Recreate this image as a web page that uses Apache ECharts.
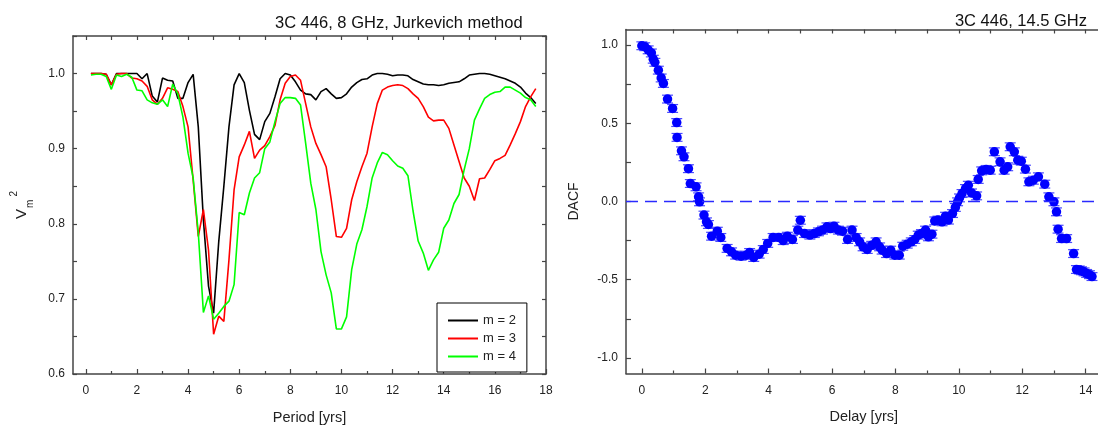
<!DOCTYPE html>
<html>
<head>
<meta charset="utf-8">
<script src="https://cdn.jsdelivr.net/npm/echarts@6/dist/echarts.min.js"></script>
<style>
html,body{margin:0;padding:0;background:#fff;}
#chart{width:1098px;height:425px;}
</style>
</head>
<body>
<div id="chart"></div>
<script>
// ---------- Left panel: Jurkevich method, 8 GHz ----------
const periods = [0.2,0.4,0.6,0.8,1.0,1.2,1.4,1.6,1.8,2.0,2.2,2.4,2.6,2.8,3.0,3.2,3.4,3.6,3.8,4.0,
  4.2,4.4,4.6,4.8,5.0,5.2,5.4,5.6,5.8,6.0,6.2,6.4,6.6,6.8,7.0,7.2,7.4,7.6,7.8,8.0,
  8.2,8.4,8.6,8.8,9.0,9.2,9.4,9.6,9.8,10.0,10.2,10.4,10.6,10.8,11.0,11.2,11.4,11.6,11.8,12.0,
  12.2,12.4,12.6,12.8,13.0,13.2,13.4,13.6,13.8,14.0,14.2,14.4,14.6,14.8,15.0,15.2,15.4,15.6,15.8,16.0,
  16.2,16.4,16.6,16.8,17.0,17.2,17.4,17.6];
const m2 = [1.0,1.0,1.0,0.999,0.985,1.0,1.0,1.0,1.0,1.0,0.993,1.0,0.970,0.962,0.994,0.991,0.990,0.967,0.967,0.988,
  0.999,0.929,0.805,0.717,0.681,0.776,0.850,0.929,0.985,1.0,0.988,0.951,0.919,0.912,0.936,0.947,0.969,0.993,1.0,0.998,
  0.989,0.978,0.973,0.972,0.965,0.976,0.980,0.973,0.967,0.968,0.973,0.982,0.988,0.992,0.993,0.998,1.0,1.0,0.999,0.997,
  0.998,0.998,0.997,0.992,0.989,0.986,0.985,0.985,0.984,0.985,0.987,0.988,0.989,0.993,0.998,0.999,1.0,1.0,0.999,0.997,
  0.995,0.993,0.990,0.987,0.982,0.974,0.968,0.960];
const m3 = [1.0,1.0,1.0,0.999,0.985,0.999,1.0,1.0,0.994,0.993,0.990,0.983,0.965,0.959,0.967,0.981,0.979,0.976,0.956,0.929,
  0.858,0.783,0.819,0.765,0.653,0.677,0.670,0.752,0.845,0.889,0.905,0.923,0.887,0.898,0.904,0.916,0.931,0.965,0.987,0.996,
  0.998,0.991,0.960,0.929,0.907,0.892,0.876,0.832,0.783,0.782,0.794,0.832,0.856,0.876,0.894,0.929,0.960,0.978,0.982,0.984,
  0.985,0.984,0.980,0.973,0.967,0.956,0.942,0.937,0.938,0.938,0.927,0.905,0.883,0.861,0.850,0.831,0.860,0.861,0.872,0.884,
  0.887,0.891,0.905,0.920,0.936,0.956,0.969,0.980];
const m4 = [0.998,0.999,0.999,0.996,0.979,0.998,0.996,0.999,0.995,0.978,0.977,0.965,0.961,0.959,0.965,0.956,0.986,0.973,0.942,0.894,
  0.861,0.788,0.682,0.704,0.673,0.681,0.690,0.697,0.719,0.815,0.812,0.841,0.861,0.868,0.900,0.909,0.936,0.960,0.968,0.968,
  0.967,0.958,0.907,0.854,0.819,0.763,0.732,0.708,0.660,0.660,0.676,0.739,0.773,0.792,0.823,0.861,0.881,0.895,0.892,0.884,
  0.877,0.874,0.864,0.817,0.777,0.761,0.738,0.752,0.762,0.794,0.805,0.827,0.839,0.872,0.900,0.938,0.953,0.967,0.972,0.975,
  0.976,0.982,0.982,0.978,0.974,0.968,0.965,0.956];
const seriesNames = ['m = 2','m = 3','m = 4'];
const leftXMajor = [0,2,4,6,8,10,12,14,16,18];
const leftXMinor = [1,3,5,7,9,11,13,15,17];
const leftXAll = [0,1,2,3,4,5,6,7,8,9,10,11,12,13,14,15,16,17,18];
const leftYLabels = [0.6,0.7,0.8,0.9,1.0];
const leftYTicks = [0.6,0.65,0.7,0.75,0.8,0.85,0.9,0.95,1.0,1.05];

// ---------- Right panel: DACF, 14.5 GHz ----------
const delays = [0,0.09,0.2,0.3,0.36,0.41,0.52,0.61,0.68,0.81,0.97,1.10,1.11,1.25,1.33,1.47,1.53,1.71,1.79,1.82,
  1.96,2.04,2.10,2.20,2.38,2.49,2.69,2.83,2.96,3.13,3.29,3.40,3.53,3.70,3.83,3.97,4.14,4.32,4.46,4.59,
  4.75,4.92,5.0,5.13,5.30,5.44,5.57,5.70,5.84,5.95,6.06,6.20,6.33,6.49,6.63,6.76,6.87,6.98,7.11,7.25,
  7.39,7.50,7.58,7.72,7.85,7.98,8.12,8.23,8.37,8.50,8.61,8.72,8.82,8.95,9.04,9.15,9.24,9.34,9.47,9.58,
  9.67,9.80,9.89,9.96,10.02,10.10,10.21,10.30,10.40,10.56,10.61,10.72,10.86,10.99,11.12,11.30,11.43,11.54,11.62,11.75,
  11.86,11.97,12.10,12.21,12.35,12.51,12.71,12.84,13.0,13.08,13.13,13.24,13.40,13.62,13.71,13.80,13.87,13.95,14.03,14.12,14.2];
const dacf = [0.996,0.99,0.97,0.95,0.91,0.89,0.84,0.79,0.755,0.655,0.595,0.505,0.41,0.324,0.286,0.21,0.115,0.094,0.03,-0.002,
  -0.087,-0.13,-0.147,-0.222,-0.19,-0.23,-0.30,-0.322,-0.343,-0.35,-0.343,-0.326,-0.358,-0.337,-0.307,-0.268,-0.23,-0.23,-0.25,-0.222,
  -0.243,-0.183,-0.12,-0.205,-0.215,-0.205,-0.194,-0.183,-0.162,-0.173,-0.158,-0.183,-0.19,-0.243,-0.183,-0.23,-0.258,-0.29,-0.307,-0.28,
  -0.258,-0.29,-0.311,-0.333,-0.311,-0.343,-0.343,-0.286,-0.273,-0.258,-0.243,-0.215,-0.205,-0.183,-0.226,-0.209,-0.124,-0.119,-0.13,-0.094,
  -0.119,-0.077,-0.038,-0.002,0.023,0.051,0.083,0.104,0.055,0.036,0.141,0.196,0.205,0.20,0.318,0.254,0.20,0.222,0.35,0.318,
  0.264,0.258,0.207,0.126,0.136,0.158,0.111,0.03,-0.002,-0.066,-0.177,-0.237,-0.237,-0.333,-0.435,-0.438,-0.443,-0.45,-0.46,-0.468,-0.48];
const dacfErr = 0.025;
const rightXMajor = [0,2,4,6,8,10,12,14];
const rightXMinor = [1,3,5,7,9,11,13];
const rightXAll = [0,1,2,3,4,5,6,7,8,9,10,11,12,13,14];
const rightYLabels = [-1.0,-0.5,0.0,0.5,1.0];
const rightYTicks = [-1.0,-0.75,-0.5,-0.25,0.0,0.25,0.5,0.75,1.0];

// ---------- build ----------
const FONT = 'Liberation Sans, Arial, sans-serif';
const AX = '#444';
const lineColors = ['#000000','#ff0000','#00ff00'];
const lineVals = [m2, m3, m4];

function pairs(xs, ys){ return xs.map((x,i)=>[x, ys[i]]); }

const chart = echarts.init(document.getElementById('chart'), null, {renderer:'canvas'});

function xAx(grid, min, max, pos, ticks, tickLen, labels, showLine, name){
  return {
    type:'value', gridIndex:grid, min:min, max:max, position:pos,
    axisLine:{show:showLine, onZero:false, lineStyle:{color:AX, width:1.5}},
    axisTick:{show:true, inside:true, length:tickLen, customValues:ticks, lineStyle:{color:AX, width:1.2}},
    axisLabel:{show:!!labels, customValues:labels||undefined, margin:11, color:'#222', fontSize:12, fontFamily:FONT},
    splitLine:{show:false},
    name:name||'', nameLocation:'middle', nameGap:36,
    nameTextStyle:{fontSize:14.5, color:'#222', fontFamily:FONT}
  };
}
function yAx(grid, min, max, pos, ticks, tickLen, labels, showLine, fmt){
  return {
    type:'value', gridIndex:grid, min:min, max:max, position:pos,
    axisLine:{show:showLine, onZero:false, lineStyle:{color:AX, width:1.5}},
    axisTick:{show:true, inside:true, length:tickLen, customValues:ticks, lineStyle:{color:AX, width:1.2}},
    axisLabel:{show:!!labels, customValues:labels||undefined, margin:8, color:'#222', fontSize:12, fontFamily:FONT,
      formatter: fmt},
    splitLine:{show:false}
  };
}
const fmt1 = v => (Math.round(v*10)/10).toFixed(1);

const xAxes = [
  xAx(0,-0.5,18,'bottom',leftXMajor,5,leftXMajor,true,'Period [yrs]'),
  xAx(0,-0.5,18,'bottom',leftXMinor,3,null,false),
  xAx(0,-0.5,18,'top',leftXAll,4,null,true),
  xAx(1,-0.5,14.5,'bottom',rightXMajor,5,rightXMajor,true,'Delay [yrs]'),
  xAx(1,-0.5,14.5,'bottom',rightXMinor,3,null,false),
  xAx(1,-0.5,14.5,'top',rightXAll,4,null,true)
];
const yLeft = yAx(0,0.6,1.05,'left',leftYTicks,4,leftYLabels,true,fmt1);
yLeft.name = '{v|V}{m|m}{s|2}';
yLeft.nameLocation = 'middle';
yLeft.nameRotate = 90;
yLeft.nameGap = 38;
yLeft.nameTextStyle = {fontFamily:FONT, color:'#222', rich:{
  v:{fontSize:15, lineHeight:26, fontFamily:FONT, color:'#222'},
  m:{fontSize:10, verticalAlign:'bottom', lineHeight:12, fontFamily:FONT, color:'#222', padding:[0,0,0,1]},
  s:{fontSize:10, verticalAlign:'top', lineHeight:12, fontFamily:FONT, color:'#222', padding:[0,0,0,3]}
}};
const yRightOfLeft = yAx(0,0.6,1.05,'right',leftYTicks,4,null,true);
const yDacf = yAx(1,-1.1,1.1,'left',rightYTicks,5,rightYLabels,true,fmt1);
yDacf.name = 'DACF';
yDacf.nameLocation = 'middle';
yDacf.nameRotate = 90;
yDacf.nameGap = 45;
yDacf.nameTextStyle = {fontSize:14, color:'#222', fontFamily:FONT};

const series = lineVals.map((vals,i)=>({
  name: seriesNames[i], type:'line', xAxisIndex:0, yAxisIndex:0,
  data: pairs(periods, vals), symbol:'none', showSymbol:false,
  lineStyle:{color:lineColors[i], width:1.6}, itemStyle:{color:lineColors[i]},
  z: 2 + i
}));

series.push({
  name:'err', type:'custom', xAxisIndex:3, yAxisIndex:2,
  data: delays.map((d,i)=>[d, dacf[i], dacfErr]),
  renderItem: function(params, api){
    const x = api.value(0), y = api.value(1), e = api.value(2);
    const t = api.coord([x, y + e]);
    const b = api.coord([x, y - e]);
    const hw = 5.5;
    const st = {stroke:'#4a4aff', lineWidth:1.2};
    return {type:'group', children:[
      {type:'line', shape:{x1:t[0], y1:t[1], x2:b[0], y2:b[1]}, style:st},
      {type:'line', shape:{x1:t[0]-hw, y1:t[1], x2:t[0]+hw, y2:t[1]}, style:st},
      {type:'line', shape:{x1:b[0]-hw, y1:b[1], x2:b[0]+hw, y2:b[1]}, style:st}
    ]};
  },
  z: 2, silent:true
});
series.push({
  name:'DACF', type:'scatter', xAxisIndex:3, yAxisIndex:2,
  data: pairs(delays, dacf), symbol:'circle', symbolSize:9.5,
  itemStyle:{color:'#0000ff', opacity:1}, z:3, silent:true,
  markLine:{silent:true, symbol:'none', label:{show:false},
    lineStyle:{color:'#2a2aff', type:[12,7], width:1.3}, data:[{yAxis:0}]}
});

chart.setOption({
  animation:false,
  backgroundColor:'#ffffff',
  textStyle:{fontFamily:FONT},
  title:[
    {text:'3C 446, 8 GHz, Jurkevich method', left:270, top:10,
      textStyle:{fontSize:16.5, fontWeight:'normal', color:'#111', fontFamily:FONT}},
    {text:'3C 446, 14.5 GHz', right:6, top:8,
      textStyle:{fontSize:16.5, fontWeight:'normal', color:'#111', fontFamily:FONT}}
  ],
  legend:{
    data:seriesNames, orient:'vertical', left:437, top:303,
    borderColor:'#000', borderWidth:1, borderRadius:0, backgroundColor:'#fff',
    padding:[11,11,9,10], itemWidth:30, itemHeight:12, itemGap:5,
    itemStyle:{opacity:0},
    lineStyle:{width:2},
    textStyle:{fontSize:13, color:'#222', fontFamily:FONT}
  },
  grid:[
    {left:73, top:36, width:473, height:338, outerBoundsMode:'none', containLabel:false},
    {left:626, top:29.5, width:475.5, height:344, outerBoundsMode:'none', containLabel:false}
  ],
  xAxis:xAxes,
  yAxis:[yLeft, yRightOfLeft, yDacf],
  series:series
});
</script>
</body>
</html>
